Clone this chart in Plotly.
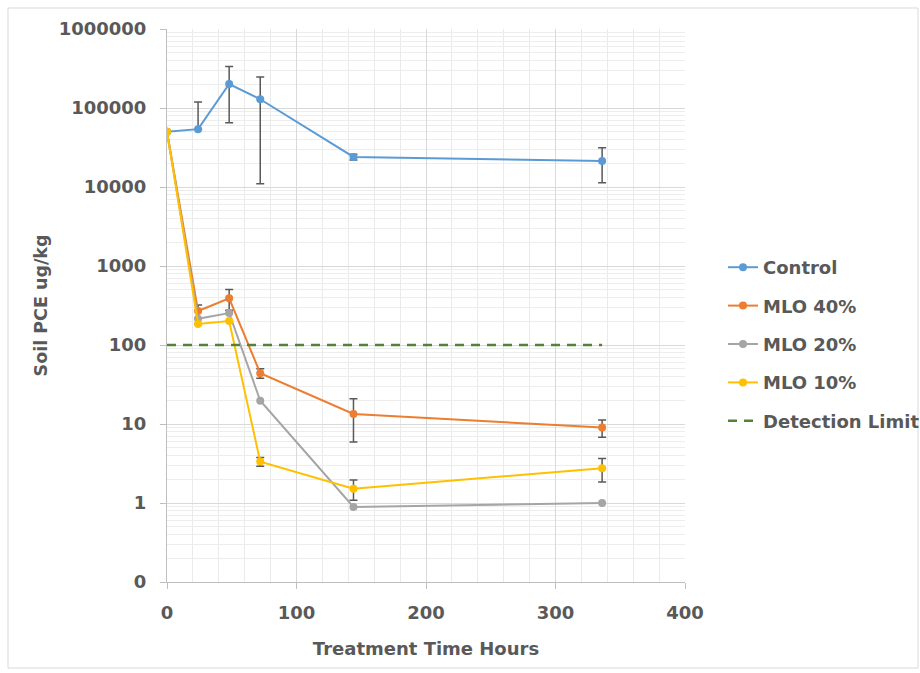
import plotly.graph_objects as go

hours = [0, 24, 48, 72, 144, 336]

control = [50000, 54000, 201000, 129000, 24000, 21300]
control_err_plus = [0, 65000, 133000, 118000, 2000, 10000]
control_err_minus = [0, 0, 136000, 118000, 2000, 10000]

mlo40 = [50000, 269, 390, 44, 13.4, 9.0]
mlo40_err = [0, 52, 115, 6, 7.5, 2.2]

mlo20 = [50000, 215, 254, 19.7, 0.89, 1.0]

mlo10 = [50000, 185, 201, 3.34, 1.52, 2.75]
mlo10_err = [0, 0, 0, 0.42, 0.44, 0.9]

detect_x = [0, 336]
detect_y = [100, 100]

y_tickvals = [0.1, 1, 10, 100, 1000, 10000, 100000, 1000000]
y_ticktext = ["0", "1", "10", "100", "1000", "10000", "100000", "1000000"]
x_tickvals = [0, 100, 200, 300, 400]

TXT = "#595959"
FONT = "DejaVu Sans"
ERRC = "#595959"

def err(plus, minus=None):
    d = dict(type="data", array=plus, color=ERRC, thickness=1.5, width=4, visible=True)
    if minus is not None:
        d["symmetric"] = False
        d["arrayminus"] = minus
    return d

fig = go.Figure()
fig.add_trace(go.Scatter(x=hours, y=control, name="Control", mode="lines+markers",
                         line=dict(color="#5B9BD5", width=2), marker=dict(size=8, color="#5B9BD5"),
                         error_y=err(control_err_plus, control_err_minus), legendgroup="a"))
fig.add_trace(go.Scatter(x=hours, y=mlo40, name="MLO 40%", mode="lines+markers",
                         line=dict(color="#ED7D31", width=2), marker=dict(size=8, color="#ED7D31"),
                         error_y=err(mlo40_err), legendgroup="b"))
fig.add_trace(go.Scatter(x=hours, y=mlo20, name="MLO 20%", mode="lines+markers",
                         line=dict(color="#A5A5A5", width=2), marker=dict(size=8, color="#A5A5A5"),
                         legendgroup="c"))
fig.add_trace(go.Scatter(x=hours, y=mlo10, name="MLO 10%", mode="lines+markers",
                         line=dict(color="#FFC000", width=2), marker=dict(size=8, color="#FFC000"),
                         error_y=err(mlo10_err), legendgroup="d"))
fig.add_trace(go.Scatter(x=detect_x, y=detect_y, name="Detection Limit", mode="lines",
                         line=dict(color="#548235", width=2.5, dash="9px,7px"), legendgroup="e"))

L, R, T, B = 167, 235, 29, 91
W, H = 920, 673
pw, ph = W - L - R, H - T - B

fig.update_layout(
    width=W, height=H,
    margin=dict(l=L, r=R, t=T, b=B, autoexpand=False),
    paper_bgcolor="white", plot_bgcolor="white",
    font=dict(family=FONT, color=TXT),
    showlegend=True,
    legend=dict(x=(723 - L) / pw, y=(H - B - 249) / ph, xanchor="left", yanchor="top",
                font=dict(family=FONT, size=18, color=TXT, weight="bold"),
                tracegroupgap=12, traceorder="grouped", bgcolor="rgba(0,0,0,0)"),
    xaxis=dict(range=[0, 400], tickvals=x_tickvals, showgrid=True, gridcolor="#D9D9D9", gridwidth=1,
               showline=True, linecolor="#BFBFBF", linewidth=1, zeroline=False,
               ticks="outside", ticklen=6, tickcolor="#BFBFBF", ticklabelstandoff=8,
               tickfont=dict(family=FONT, size=18, color=TXT, weight="bold"),
               minor=dict(dtick=20, showgrid=True, gridcolor="#EAEAEA", ticks=""),
               title=dict(text="Treatment Time Hours", font=dict(family=FONT, size=18, color=TXT, weight="bold"),
                          standoff=20)),
    yaxis=dict(type="log", range=[-1, 6], tickvals=y_tickvals, ticktext=y_ticktext,
               showgrid=True, gridcolor="#D9D9D9", gridwidth=1,
               showline=True, linecolor="#BFBFBF", linewidth=1, zeroline=False,
               ticks="outside", ticklen=6, tickcolor="#BFBFBF", ticklabelstandoff=10,
               tickfont=dict(family=FONT, size=18, color=TXT, weight="bold"),
               minor=dict(dtick="D1", showgrid=True, gridcolor="#EDEDED", ticks=""),
               title=dict(text="Soil PCE ug/kg", font=dict(family=FONT, size=17.5, color=TXT, weight="bold"),
                          standoff=6)),
    shapes=[dict(type="rect", xref="paper", yref="paper",
                 x0=(8 - L) / pw, x1=(918 - L) / pw,
                 y0=(H - B - 668) / ph, y1=(H - B - 8) / ph,
                 line=dict(color="#D9D9D9", width=1), fillcolor="rgba(0,0,0,0)", layer="below")],
)

fig.write_html("out.html")
